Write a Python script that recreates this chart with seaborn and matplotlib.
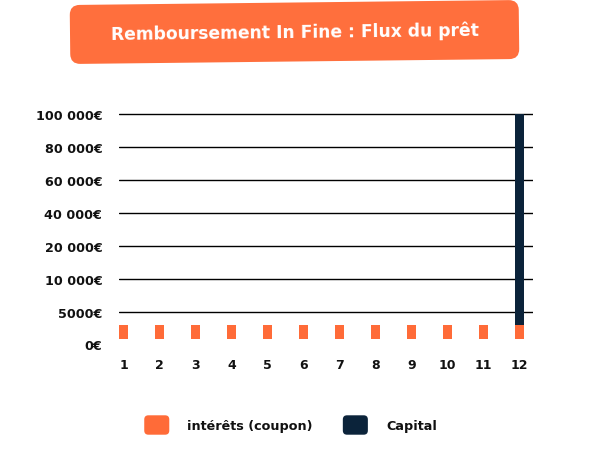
import numpy as np
import pandas as pd
import matplotlib
matplotlib.use("Agg")
import matplotlib.pyplot as plt
import seaborn as sns
from matplotlib.patches import FancyBboxPatch, Patch
from matplotlib.legend_handler import HandlerPatch
from matplotlib.transforms import ScaledTranslation, Affine2D

# ---- data ----
mois = ["1", "2", "3", "4", "5", "6", "7", "8", "9", "10", "11", "12"]
interets = [2500, 2500, 2500, 2500, 2500, 2500, 2500, 2500, 2500, 2500, 2500, 2500]
capital = [0, 0, 0, 0, 0, 0, 0, 0, 0, 0, 0, 100000]
y_ticks = [0, 5000, 10000, 20000, 40000, 60000, 80000, 100000]
y_tick_labels = ["0€", "5000€", "10 000€", "20 000€", "40 000€", "60 000€", "80 000€", "100 000€"]
title = "Remboursement In Fine : Flux du prêt"
legend_labels = ["intérêts (coupon)", "Capital"]

ORANGE = "#FF6B38"
NAVY = "#0B233A"
TXT = "#111111"

sns.set_theme(style="white")
plt.rcParams["font.family"] = ["DejaVu Sans"]
plt.rcParams["font.weight"] = "bold"

df = pd.DataFrame({"mois": mois, "interets": interets, "capital": capital})

# piecewise-linear value axis (ticks equally spaced)
scale_vals = np.array([0, 5000, 10000, 20000, 40000, 60000, 80000, 100000, 120000], dtype=float)
scale_pos = np.array([0, 0.82, 1.82, 2.82, 3.82, 4.82, 5.82, 6.82, 7.82])

def fwd(v):
    return np.interp(v, scale_vals, scale_pos)

def inv(p):
    return np.interp(p, scale_pos, scale_vals)

fig = plt.figure(figsize=(5.89, 4.77), dpi=100)
ax = fig.add_axes([119 / 589, 1 - 340 / 477, 414 / 589, 228.4 / 477])

sns.barplot(data=df, x="mois", y="capital", color=NAVY, width=0.25,
            saturation=1, linewidth=0, edgecolor="none", ax=ax, zorder=3)
sns.barplot(data=df, x="mois", y="interets", color=ORANGE, width=0.25,
            saturation=1, linewidth=0, edgecolor="none", ax=ax, zorder=4)

ax.set_yscale("function", functions=(fwd, inv))
ax.set_ylim(0, 102000)
ax.set_xlim(-0.125, 11.375)

for v in y_ticks[1:]:
    ax.axhline(v, color="black", lw=1.0, zorder=1)

ax.set_yticks(y_ticks)
ax.set_yticklabels(y_tick_labels)
ax.yaxis.set_minor_locator(matplotlib.ticker.NullLocator())
ax.tick_params(axis="y", length=0, pad=12, labelsize=9.2, labelcolor=TXT)
ax.tick_params(axis="x", length=0, pad=14, labelsize=9.0, labelcolor=TXT)
for lab in ax.get_xticklabels() + ax.get_yticklabels():
    lab.set_fontweight("bold")
zero_lab = ax.get_yticklabels()[0]
zero_lab.set_transform(zero_lab.get_transform() + ScaledTranslation(0, -5 / 100, fig.dpi_scale_trans))

ax.set_xlabel("")
ax.set_ylabel("")
for s in ax.spines.values():
    s.set_visible(False)

# title box (slightly tilted, pixel coordinates)
cx, cy, ang = 294.5, 477 - 33, 0.64
tr = Affine2D().rotate_deg_around(cx, cy, ang).scale(1 / 100) + fig.dpi_scale_trans
box = FancyBboxPatch((cx - 224.5, cy - 29.5), 449, 59,
                     boxstyle="round,pad=0,rounding_size=10",
                     transform=tr, fc="#FF6F3D", ec="none")
fig.patches.append(box)
fig.text(cx / 589, cy / 477, title, color="white", fontsize=12.3,
         fontweight="bold", ha="center", va="center", rotation=ang,
         rotation_mode="anchor")

# legend
class RoundHandler(HandlerPatch):
    def create_artists(self, legend, orig_handle, xdescent, ydescent,
                       width, height, fontsize, trans):
        p = FancyBboxPatch((-xdescent, -ydescent), width, height,
                           boxstyle="round,pad=0,rounding_size=3",
                           fc=orig_handle.get_facecolor(), ec="none",
                           transform=trans)
        return [p]

handles = [Patch(facecolor=ORANGE), Patch(facecolor=NAVY)]
leg = fig.legend(handles, legend_labels, loc="center", ncol=2,
                 bbox_to_anchor=(290.5 / 589, 1 - 426 / 477), frameon=False,
                 handlelength=1.96, handleheight=1.96, handletextpad=1.41,
                 columnspacing=2.35, fontsize=9.2,
                 handler_map={Patch: RoundHandler()})
for t in leg.get_texts():
    t.set_fontweight("bold")
    t.set_color(TXT)

fig.savefig("out.png", dpi=100, facecolor="white")
